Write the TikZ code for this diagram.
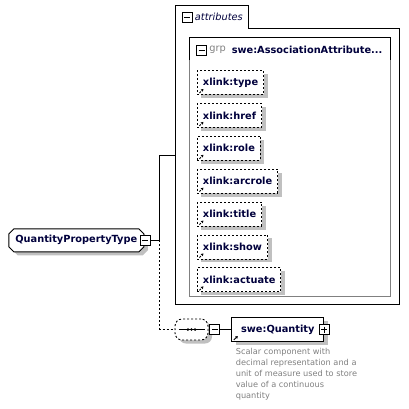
\documentclass[tikz,border=0pt]{standalone}
\usepackage{fontspec}
\setmainfont{DejaVu Sans}
\usepackage{tikz}
\usetikzlibrary{arrows.meta,positioning,shapes.misc,shadows}
\definecolor{labelblue}{RGB}{0,0,60}
\definecolor{notegray}{RGB}{128,128,128}
\definecolor{shadowgray}{RGB}{192,192,192}

\begin{document}
\begin{tikzpicture}[x=1pt,y=-1pt,line width=.9pt,
  font=\fontsize{9.8}{11}\selectfont,
  node distance=8pt and 0pt,
  shade/.style={drop shadow={shadow xshift=4pt,shadow yshift=-3.5pt,fill=shadowgray,opacity=1}},
  refmark/.style={path picture={\draw[line width=.9pt,-{Triangle[length=2.4pt,width=2.8pt]}]
      ([shift={(2pt,1.5pt)}]path picture bounding box.south west) -- ++(4pt,4pt);}},
  attr/.style={draw,dash pattern=on 2pt off 2pt,fill=white,shade,refmark,text=labelblue,
    font=\fontsize{9.8}{11}\selectfont\bfseries,minimum height=24pt,inner xsep=5.5pt},
  elem/.style={draw,fill=white,shade,refmark,text=labelblue,
    font=\fontsize{9.8}{11}\selectfont\bfseries,minimum height=24pt,minimum width=92pt,inner xsep=4pt},
  typebox/.style={draw,fill=white,shade,chamfered rectangle,chamfered rectangle xsep=2.5pt,
    chamfered rectangle ysep=2.5pt,text=labelblue,font=\fontsize{9.8}{11}\selectfont\bfseries,
    minimum width=135pt,minimum height=23pt,inner sep=0pt},
  seqbox/.style={draw,dash pattern=on 2pt off 2pt,fill=white,shade,rounded corners=7pt,
    minimum width=33pt,minimum height=21pt},
  collapse/.style={draw,fill=white,minimum size=10pt,inner sep=0pt,
    path picture={\draw ([xshift=2pt]path picture bounding box.west) -- ([xshift=-2pt]path picture bounding box.east);}},
  expand/.style={draw,fill=white,minimum size=10pt,inner sep=0pt,
    path picture={\draw ([xshift=2pt]path picture bounding box.west) -- ([xshift=-2pt]path picture bounding box.east);
      \draw ([yshift=-2pt]path picture bounding box.north) -- ([yshift=2pt]path picture bounding box.south);}},
  note/.style={text=notegray,font=\fontsize{8.2}{11}\selectfont,align=left,inner sep=0pt}
]
  \useasboundingbox (0,0) rectangle (409,408);

  \draw (175,304) -- (175,5) -- (248,5) -- (248,28) -- (399,28) -- (399,304) -- cycle;
  \coordinate (attin) at (175,155);
  \node[collapse] (attrx) at (187,17) {};
  \node[right=2pt of attrx,inner sep=0pt,font=\fontsize{9.8}{11}\selectfont\itshape,text=labelblue] (attrlbl) {attributes};

  \node[draw=notegray,minimum width=201pt,minimum height=259pt,anchor=north west] (grp) at (189,37) {};
  \draw ([yshift=-23pt]grp.north west) -- (grp.north west) -- (grp.north east) -- ([yshift=-23pt]grp.north east);
  \node[collapse] (grpx) at (201.5,50) {};
  \node[right=2pt of grpx,inner sep=0pt,text=notegray] (grpkw) {grp};
  \node[right=5pt of grpkw,inner sep=0pt,text=labelblue,font=\fontsize{9.8}{11}\selectfont\bfseries] (grpname) {swe:AssociationAttribute...};

  \node[attr,anchor=north west] (xtype) at (197,70) {xlink:type};
  \node[attr,below right=8pt and 0pt of xtype.south west] (xhref) {xlink:href};
  \node[attr,below right=8pt and 0pt of xhref.south west] (xrole) {xlink:role};
  \node[attr,below right=8pt and 0pt of xrole.south west] (xarcrole) {xlink:arcrole};
  \node[attr,below right=8pt and 0pt of xarcrole.south west] (xtitle) {xlink:title};
  \node[attr,below right=8pt and 0pt of xtitle.south west] (xshow) {xlink:show};
  \node[attr,below right=8pt and 0pt of xshow.south west] (xactuate) {xlink:actuate};

  \node[typebox,anchor=north west] (qpt) at (11,231) {QuantityPropertyType\hspace{7pt}};
  \node[collapse] (qptx) at ([xshift=1pt]qpt.east) {};
  \coordinate (fork) at ([xshift=9pt]qptx.east);

  \node[seqbox] (seq) at (191.5,329.5) {};
  \draw ([xshift=4pt]seq.west) -- ([xshift=-3pt]seq.east);
  \foreach \dx in {-3.6,0,3.6}
    \fill ([xshift=\dx pt]seq.center) circle (1.4pt);
  \node[collapse,right=1pt of seq] (seqx) {};
  \node[elem,right=11pt of seqx] (qty) {swe:Quantity\hspace{6pt}};
  \node[expand] (qtyx) at (qty.east) {};
  \node[note,below right=6pt and 4pt of qty.south west] (qtynote)
    {Scalar component with\\decimal representation and a\\unit of measure used to store\\value of a continuous\\quantity};

  \draw (qptx) -- (fork) |- (attin);
  \draw[dash pattern=on 2pt off 2pt] (fork) |- (seq);
  \draw (seqx) -- (qty);
\end{tikzpicture}
\end{document}
